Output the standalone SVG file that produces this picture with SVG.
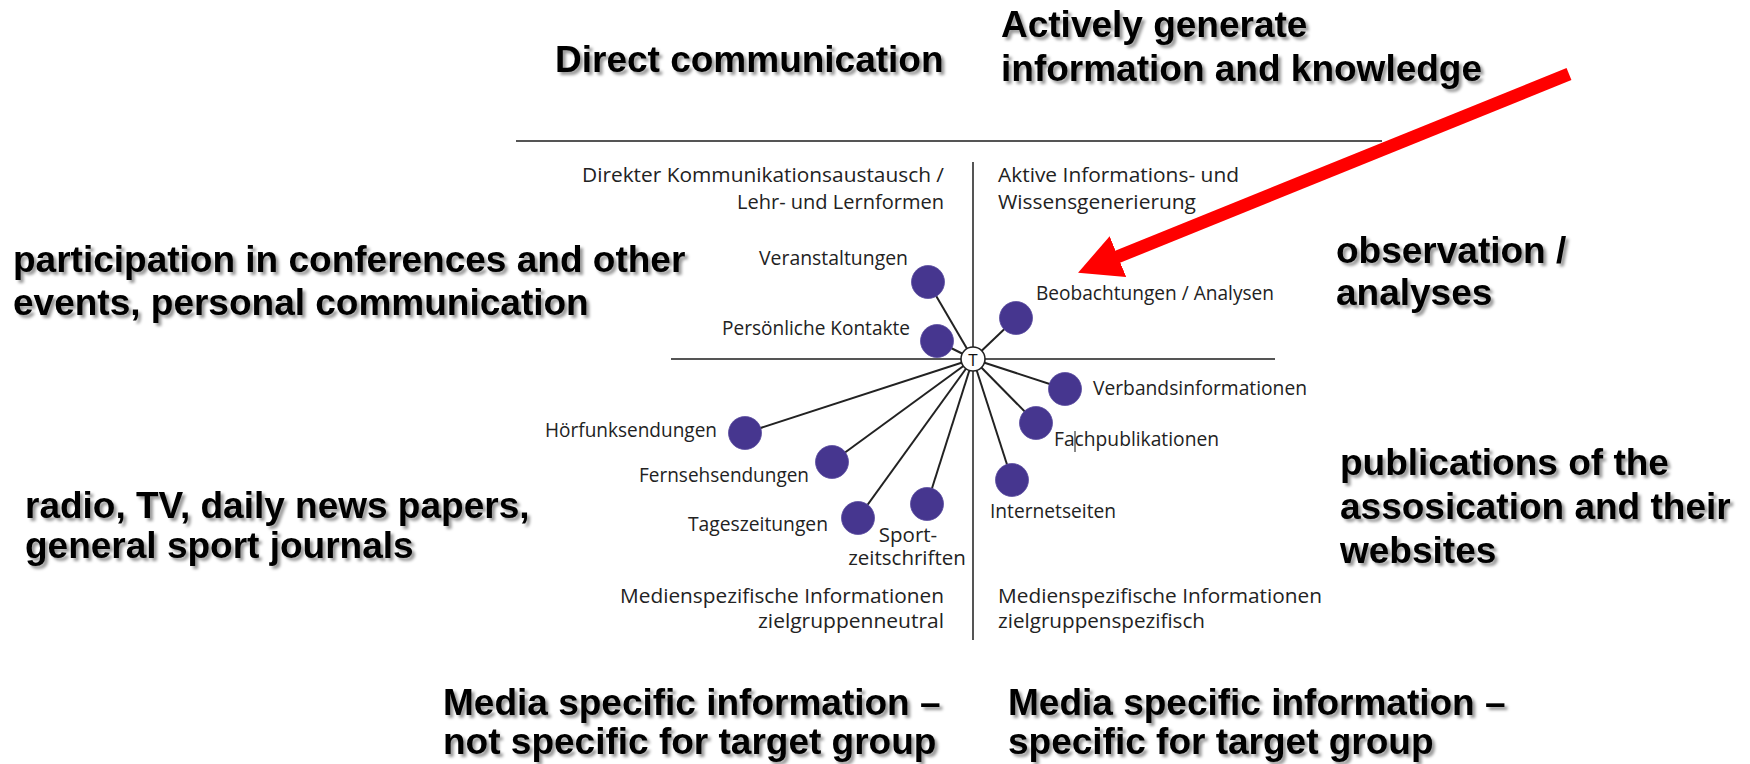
<svg xmlns="http://www.w3.org/2000/svg" width="1750" height="764" viewBox="0 0 1750 764">
<defs>
<style>
.big{font-family:"Liberation Sans",Arial,sans-serif;font-weight:bold;font-size:37px;fill:#000;filter:url(#shadow)}
.lbl{font-family:"Open Sans","Noto Sans",sans-serif;font-size:20.5px;fill:#222}
.end{text-anchor:end}
.mid{text-anchor:middle}
.axis{stroke:#555;stroke-width:2;fill:none}
.spoke{stroke:#222;stroke-width:2}
.dot{fill:#46368f;stroke:#5a4ca0;stroke-width:0.8}
.arrow{stroke:#ff0000;stroke-width:13;fill:none}
</style>
<filter id="shadow" x="-5%" y="-20%" width="115%" height="160%">
<feDropShadow dx="3" dy="3" stdDeviation="1.4" flood-color="#000" flood-opacity="0.4"/>
</filter>
<marker id="redhead" markerUnits="userSpaceOnUse" markerWidth="44" markerHeight="46" refX="1" refY="23" orient="auto" viewBox="0 0 44 46">
<path d="M0,1 L43,23 L0,45 z" fill="#ff0000"/>
</marker>
</defs>
<rect width="1750" height="764" fill="#fff"/>

<g id="headings">
<text class="big" x="555" y="72">Direct communication</text>
<text class="big" x="1001" y="37">Actively generate</text>
<text class="big" x="1001" y="81">information and knowledge</text>
<text class="big" x="13" y="272">participation in conferences and other</text>
<text class="big" x="13" y="315">events, personal communication</text>
<text class="big" x="1336" y="263">observation /</text>
<text class="big" x="1336" y="305">analyses</text>
<text class="big" x="25" y="518">radio, TV, daily news papers,</text>
<text class="big" x="25" y="558">general sport journals</text>
<text class="big" x="1340" y="475">publications of the</text>
<text class="big" x="1340" y="519">assosication and their</text>
<text class="big" x="1340" y="563">websites</text>
<text class="big" x="443" y="715">Media specific information –</text>
<text class="big" x="443" y="754">not specific for target group</text>
<text class="big" x="1008" y="715">Media specific information –</text>
<text class="big" x="1008" y="754">specific for target group</text>
</g>

<g id="axes">
<line class="axis" x1="516" y1="141" x2="1382" y2="141"/>
<line class="axis" x1="973" y1="162" x2="973" y2="640"/>
<line class="axis" x1="671" y1="359" x2="1275" y2="359"/>
</g>

<g id="quadrant-labels">
<text class="lbl end" x="944" y="182" textLength="362" lengthAdjust="spacingAndGlyphs">Direkter Kommunikationsaustausch /</text>
<text class="lbl end" x="944" y="209" textLength="207" lengthAdjust="spacingAndGlyphs">Lehr- und Lernformen</text>
<text class="lbl" x="998" y="182" textLength="241" lengthAdjust="spacingAndGlyphs">Aktive Informations- und</text>
<text class="lbl" x="998" y="209" textLength="198" lengthAdjust="spacingAndGlyphs">Wissensgenerierung</text>
<text class="lbl end" x="944" y="603" textLength="324" lengthAdjust="spacingAndGlyphs">Medienspezifische Informationen</text>
<text class="lbl end" x="944" y="628" textLength="186" lengthAdjust="spacingAndGlyphs">zielgruppenneutral</text>
<text class="lbl" x="998" y="603" textLength="324" lengthAdjust="spacingAndGlyphs">Medienspezifische Informationen</text>
<text class="lbl" x="998" y="628" textLength="207" lengthAdjust="spacingAndGlyphs">zielgruppenspezifisch</text>
</g>

<g id="connectors">
<line class="spoke" x1="973" y1="359" x2="928" y2="282"/>
<line class="spoke" x1="973" y1="359" x2="937" y2="341"/>
<line class="spoke" x1="973" y1="359" x2="1016" y2="318"/>
<line class="spoke" x1="973" y1="359" x2="1065" y2="389"/>
<line class="spoke" x1="973" y1="359" x2="1036" y2="423"/>
<line class="spoke" x1="973" y1="359" x2="1012" y2="480"/>
<line class="spoke" x1="973" y1="359" x2="745" y2="433"/>
<line class="spoke" x1="973" y1="359" x2="832" y2="462"/>
<line class="spoke" x1="973" y1="359" x2="858" y2="518"/>
<line class="spoke" x1="973" y1="359" x2="927" y2="504"/>
<line class="arrow" x1="1569" y1="74" x2="1117" y2="257" marker-end="url(#redhead)"/>
</g>

<g id="node-T">
<circle cx="973" cy="359" r="12" fill="#fff" stroke="#222" stroke-width="1.6"/>
<text x="973" y="365.5" text-anchor="middle" font-family="'Open Sans','Noto Sans',sans-serif" font-size="17" fill="#111">T</text>
</g>

<g id="node-veranstaltungen">
<circle class="dot" cx="928" cy="282" r="16.5"/>
<text class="lbl end" x="908" y="265" textLength="149" lengthAdjust="spacingAndGlyphs">Veranstaltungen</text>
</g>
<g id="node-persoenliche-kontakte">
<circle class="dot" cx="937" cy="341" r="16.5"/>
<text class="lbl end" x="910" y="335" textLength="188" lengthAdjust="spacingAndGlyphs">Persönliche Kontakte</text>
</g>
<g id="node-beobachtungen">
<circle class="dot" cx="1016" cy="318" r="16.5"/>
<text class="lbl" x="1036" y="300" textLength="238" lengthAdjust="spacingAndGlyphs">Beobachtungen / Analysen</text>
</g>
<g id="node-verbandsinformationen">
<circle class="dot" cx="1065" cy="389" r="16.5"/>
<text class="lbl" x="1093" y="395" textLength="214" lengthAdjust="spacingAndGlyphs">Verbandsinformationen</text>
</g>
<g id="node-fachpublikationen">
<circle class="dot" cx="1036" cy="423" r="16.5"/>
<text class="lbl" x="1054" y="446" textLength="165" lengthAdjust="spacingAndGlyphs">Fachpublikationen</text>
<line x1="1075" y1="431" x2="1075" y2="452" stroke="#111" stroke-width="1"/>
</g>
<g id="node-internetseiten">
<circle class="dot" cx="1012" cy="480" r="16.5"/>
<text class="lbl" x="990" y="518" textLength="126" lengthAdjust="spacingAndGlyphs">Internetseiten</text>
</g>
<g id="node-hoerfunksendungen">
<circle class="dot" cx="745" cy="433" r="16.5"/>
<text class="lbl end" x="717" y="437" textLength="172" lengthAdjust="spacingAndGlyphs">Hörfunksendungen</text>
</g>
<g id="node-fernsehsendungen">
<circle class="dot" cx="832" cy="462" r="16.5"/>
<text class="lbl end" x="809" y="482" textLength="170" lengthAdjust="spacingAndGlyphs">Fernsehsendungen</text>
</g>
<g id="node-tageszeitungen">
<circle class="dot" cx="858" cy="518" r="16.5"/>
<text class="lbl end" x="828" y="531" textLength="140" lengthAdjust="spacingAndGlyphs">Tageszeitungen</text>
</g>
<g id="node-sportzeitschriften">
<circle class="dot" cx="927" cy="504" r="16.5"/>
<text class="lbl mid"><tspan x="908" y="542">Sport-</tspan><tspan x="907" y="565">zeitschriften</tspan></text>
</g>
</svg>
